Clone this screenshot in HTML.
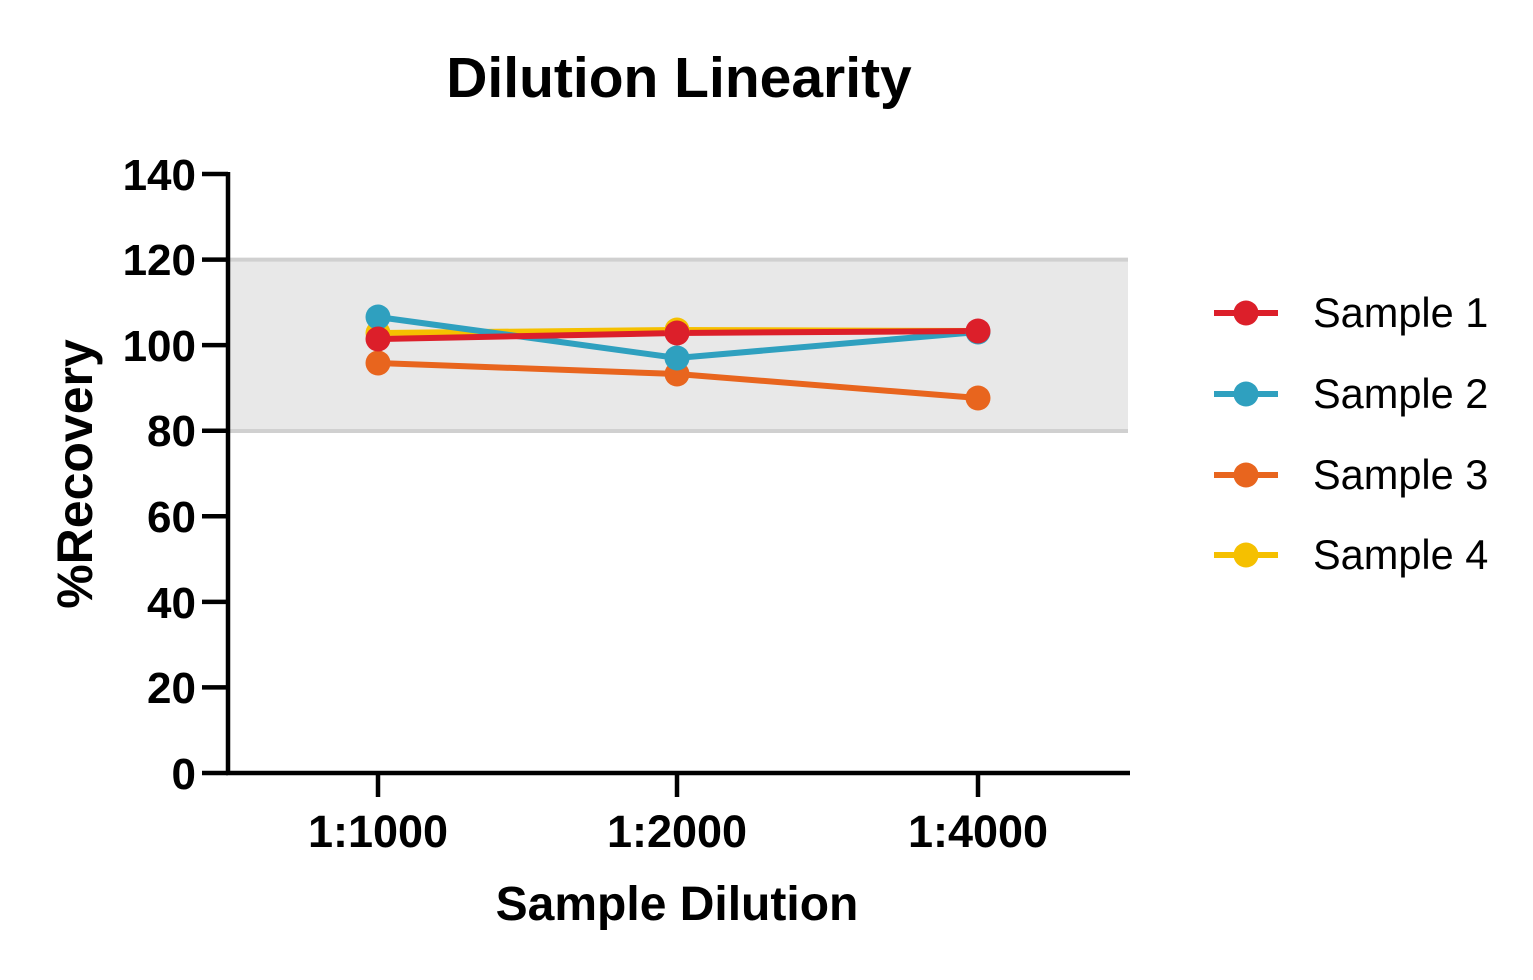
<!DOCTYPE html>
<html><head><style>body{margin:0;background:#fff}</style></head><body>
<svg width="1533" height="975" xmlns="http://www.w3.org/2000/svg" font-family="Liberation Sans, Arial, sans-serif">
<rect width="1533" height="975" fill="#fff"/>
<text x="679" y="97" font-size="57" font-weight="bold" text-anchor="middle">Dilution Linearity</text>
<rect x="228" y="259.6" width="900" height="171.4" fill="#e8e8e8"/>
<line x1="228" y1="259.6" x2="1128" y2="259.6" stroke="#d0d0d0" stroke-width="4"/>
<line x1="228" y1="431" x2="1128" y2="431" stroke="#d0d0d0" stroke-width="4"/>
<g stroke="#000" stroke-width="4.5" fill="none">
<line x1="228" y1="172" x2="228" y2="775"/>
<line x1="226" y1="773" x2="1130" y2="773"/>
<line x1="202" y1="174" x2="228" y2="174"/>
<line x1="202" y1="259.6" x2="228" y2="259.6"/>
<line x1="202" y1="345.1" x2="228" y2="345.1"/>
<line x1="202" y1="430.7" x2="228" y2="430.7"/>
<line x1="202" y1="516.3" x2="228" y2="516.3"/>
<line x1="202" y1="601.9" x2="228" y2="601.9"/>
<line x1="202" y1="687.4" x2="228" y2="687.4"/>
<line x1="202" y1="773" x2="228" y2="773"/>
<line x1="378" y1="773" x2="378" y2="797"/>
<line x1="677" y1="773" x2="677" y2="797"/>
<line x1="978" y1="773" x2="978" y2="797"/>
</g>
<g font-size="44" font-weight="bold" text-anchor="end">
<text x="196" y="190">140</text><text x="196" y="275">120</text><text x="196" y="361">100</text>
<text x="196" y="446">80</text><text x="196" y="532">60</text><text x="196" y="618">40</text>
<text x="196" y="703">20</text><text x="196" y="789">0</text>
</g>
<g font-size="45" font-weight="bold" text-anchor="middle">
<text x="378" y="847">1:1000</text><text x="677" y="847">1:2000</text><text x="978" y="847">1:4000</text>
</g>
<text x="677" y="920" font-size="48" font-weight="bold" text-anchor="middle">Sample Dilution</text>
<text transform="translate(92,474) rotate(-90)" font-size="50" font-weight="bold" text-anchor="middle">%Recovery</text>
<g stroke-width="6" fill="none">
<polyline points="378,333 677,330 978,331" stroke="#f5c000"/>
<polyline points="378,363 677,374 978,398" stroke="#e8651e"/>
<polyline points="378,317 677,358 978,332" stroke="#2fa0bf"/>
<polyline points="378,339 677,333 978,331" stroke="#dc1f2a"/>
</g>
<g fill="#f5c000"><circle cx="378" cy="333" r="12.5"/><circle cx="677" cy="330" r="12.5"/></g>
<g fill="#e8651e"><circle cx="378" cy="363" r="12.5"/><circle cx="677" cy="374" r="12.5"/><circle cx="978" cy="398" r="12.5"/></g>
<g fill="#2fa0bf"><circle cx="378" cy="317" r="12.5"/><circle cx="677" cy="358" r="12.5"/><circle cx="978" cy="332" r="12.5"/></g>
<g fill="#dc1f2a"><circle cx="378" cy="339" r="12.5"/><circle cx="677" cy="333" r="12.5"/><circle cx="978" cy="331" r="12.5"/></g>
<g stroke-width="6">
<line x1="1214" y1="313" x2="1278" y2="313" stroke="#dc1f2a"/><circle cx="1246" cy="313" r="12.5" fill="#dc1f2a"/>
<line x1="1214" y1="394" x2="1278" y2="394" stroke="#2fa0bf"/><circle cx="1246" cy="394" r="12.5" fill="#2fa0bf"/>
<line x1="1214" y1="475" x2="1278" y2="475" stroke="#e8651e"/><circle cx="1246" cy="475" r="12.5" fill="#e8651e"/>
<line x1="1214" y1="555" x2="1278" y2="555" stroke="#f5c000"/><circle cx="1246" cy="555" r="12.5" fill="#f5c000"/>
</g>
<g font-size="41.5">
<text x="1313" y="327">Sample 1</text><text x="1313" y="408">Sample 2</text>
<text x="1313" y="489">Sample 3</text><text x="1313" y="569">Sample 4</text>
</g>
</svg>
</body></html>
